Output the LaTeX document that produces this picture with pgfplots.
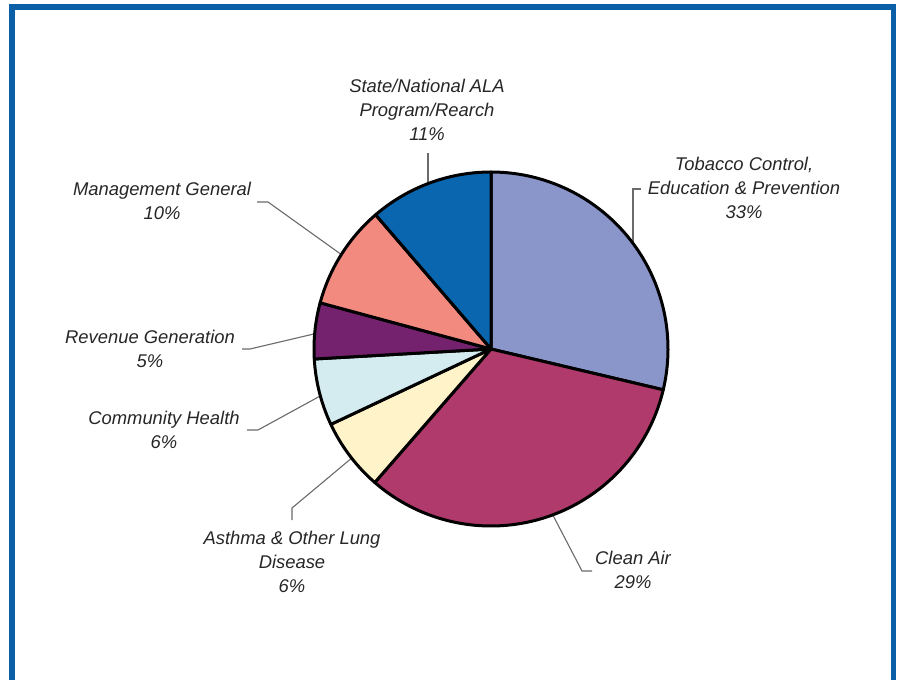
\documentclass[border=0pt]{standalone}
\usepackage{pgfplots}
\usepackage{pgfplotstable}
\pgfplotsset{compat=1.18}
\usepackage{fontspec}
\setmainfont{Liberation Sans}

\definecolor{slice0}{HTML}{8A96CA}
\definecolor{slice1}{HTML}{B03A6B}
\definecolor{slice2}{HTML}{FFF3C9}
\definecolor{slice3}{HTML}{D4ECEF}
\definecolor{slice4}{HTML}{74226E}
\definecolor{slice5}{HTML}{F38A80}
\definecolor{slice6}{HTML}{0A66AE}
\definecolor{frameblue}{HTML}{0A5FA6}
\definecolor{txt}{HTML}{262626}
\definecolor{lead}{HTML}{6A6A6A}

% drawn share of each slice (percent of the circle), clockwise from 12 o'clock
\pgfplotstableread[col sep=comma]{
label,share
Tobacco,28.7
CleanAir,32.7
Asthma,6.6
Community,6.1
Revenue,5.1
Management,9.5
State,11.3
}\piedata

\begin{document}
\begin{tikzpicture}
% cumulative angles
\xdef\curang{90}
\foreach \i in {0,...,6}{%
  \pgfplotstablegetelem{\i}{share}\of\piedata
  \pgfmathsetmacro\endang{\curang-3.6*\pgfplotsretval}%
  \expandafter\xdef\csname s\i\endcsname{\curang}%
  \expandafter\xdef\csname e\i\endcsname{\endang}%
  \xdef\curang{\endang}%
}
\begin{axis}[
  width=449pt, height=340pt, scale only axis,
  xmin=0, xmax=898, ymin=0, ymax=680,
  hide axis, clip=false,
]
\path (axis cs:0,0) rectangle (axis cs:898,680);
% frame
\draw[frameblue, line width=2.85pt, line join=miter]
  (axis cs:12.2,0) -- (axis cs:12.2,673.2) -- (axis cs:893.5,673.2) -- (axis cs:893.5,0);

% leader lines
\begin{scope}[lead, line width=0.55pt]
\draw (axis cs:428,527) -- (axis cs:428,490);
\draw (axis cs:641,491) -- (axis cs:633,491) -- (axis cs:633,430);
\draw (axis cs:257,478) -- (axis cs:268,478) -- (axis cs:342,425);
\draw (axis cs:242,331) -- (axis cs:250,331) -- (axis cs:318,347);
\draw (axis cs:247,250) -- (axis cs:258,250) -- (axis cs:322,285);
\draw (axis cs:292,160) -- (axis cs:292,172) -- (axis cs:353,223);
\draw (axis cs:592,109) -- (axis cs:582,109) -- (axis cs:545,180);
\end{scope}

% slices
\pgfplotsinvokeforeach{0,...,6}{
  \addplot[fill=slice#1, draw=black, line width=1.5pt, line join=round,
    domain=\csname e#1\endcsname:\csname s#1\endcsname, samples=80, variable=\t]
    ({491+177*cos(\t)},{331+177*sin(\t)}) -- (axis cs:491,331) -- cycle;
}

% labels
\begin{scope}[every node/.style={align=center, text=txt,
    font=\fontsize{9.2}{12}\selectfont\itshape, inner sep=0pt}]
\node at (axis cs:427,570) {State/National ALA\\Program/Rearch\\11\%};
\node at (axis cs:744,492) {Tobacco Control,\\Education \& Prevention\\33\%};
\node at (axis cs:162,479.5) {Management General\\10\%};
\node at (axis cs:150,331.5) {Revenue Generation\\5\%};
\node at (axis cs:164,250.5) {Community Health\\6\%};
\node at (axis cs:292,118) {Asthma \& Other Lung\\Disease\\6\%};
\node at (axis cs:633,110.5) {Clean Air\\29\%};
\end{scope}
\end{axis}
\end{tikzpicture}
\end{document}
